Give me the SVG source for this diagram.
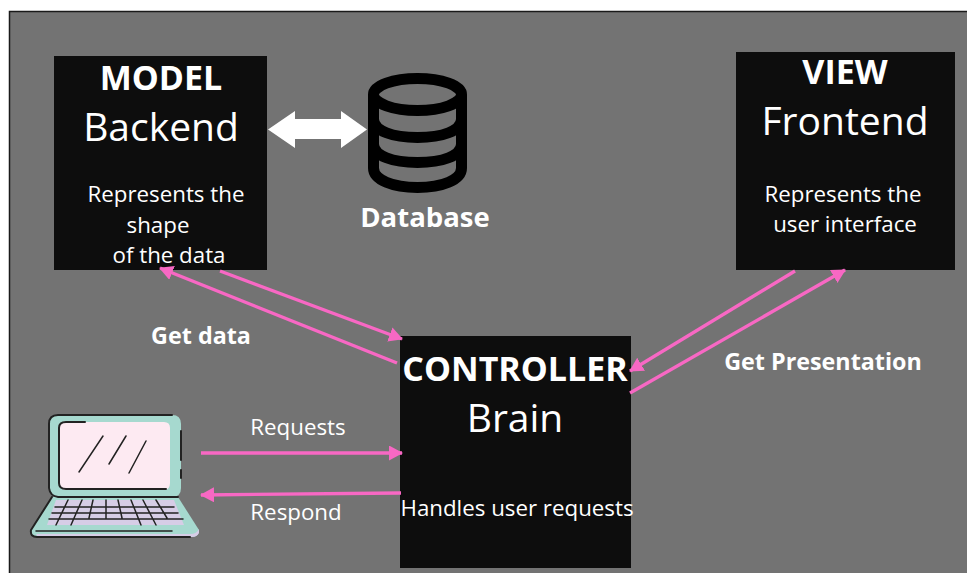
<svg xmlns="http://www.w3.org/2000/svg" width="967" height="573" viewBox="0 0 967 573">
<defs>
<marker id="ah" markerUnits="userSpaceOnUse" markerWidth="16" markerHeight="16" refX="13" refY="7.500" orient="auto"><path d="M0 0L14 7.500L0 15Z" fill="#f868c4"/></marker>
</defs>
<style>
text{font-family:"Open Sans","Noto Sans",sans-serif;fill:#fff;text-anchor:middle}
.box{fill:#0d0d0d}
.t{font-size:34px;font-weight:700}
.s{font-size:39px}
.d{font-size:22.300px}
.b{font-size:23.300px;font-weight:700}
.l{fill:none;stroke:#f868c4;stroke-width:3.300}
.k{fill:none;stroke:#222;stroke-linecap:round}
</style>
<rect width="967" height="573" fill="#fff"/>
<rect x="9.500" y="11.500" width="960" height="565" fill="#737373" stroke="#1a1a1a" stroke-width="1.500"/>
<g id="model">
<rect class="box" x="54" y="56" width="213" height="214"/>
<text class="t" x="161" y="90">MODEL</text>
<text class="s" x="161" y="141">Backend</text>
<text class="d" x="166" y="202">Represents the</text>
<text class="d" x="158" y="233">shape</text>
<text class="d" x="169" y="263">of the data</text>
</g>
<g id="view">
<rect class="box" x="736" y="52" width="219" height="218"/>
<text class="t" x="845" y="84">VIEW</text>
<text class="s" x="845" y="135">Frontend</text>
<text class="d" x="843" y="202">Represents the</text>
<text class="d" x="845" y="232">user interface</text>
</g>
<g id="controller">
<rect class="box" x="400" y="336" width="231" height="232"/>
<text class="t" x="515" y="381">CONTROLLER</text>
<text class="s" x="515" y="432">Brain</text>
<text class="d" x="517" y="516">Handles user requests</text>
</g>
<g id="database">
<g fill="none" stroke="#000" stroke-width="11">
<ellipse cx="417.500" cy="94.500" rx="44" ry="16"/>
<path d="M373.500 94.500V168C373.500 180 393 187.500 417.500 187.500S461.500 180 461.500 168V94.500"/>
<path d="M373.500 119C373.500 131 393 137.500 417.500 137.500S461.500 131 461.500 119"/>
<path d="M373.500 144C373.500 156 393 162.500 417.500 162.500S461.500 156 461.500 144"/>
</g>
<text class="b" x="425" y="227" style="font-size:27.500px">Database</text>
</g>
<g id="laptop">
<path d="M58 415H172Q181 415 181 424V488Q181 497 172 497H58Q49 497 49 488V424Q49 415 58 415Z" fill="#a6d9cf"/>
<path d="M65 422H164Q170 422 170 428V483Q170 490 164 490H66Q59 490 59 483V428Q59 422 65 422Z" fill="#fdeaf2"/>
<path d="M52 497H178L199 530Q199 537 192 537H37Q30 537 31 530Z" fill="#a6d9cf"/>
<path d="M56 500H174L184 525H47Z" fill="#d6cde6"/>
<path d="M36 534H190Q197 534 199 529V533Q197 537 192 537H38Z" fill="#d6cde6"/>
<path class="k" stroke-width="1.500" d="M36 531H172M55 507H174M52 513H178M49 519H183M68 500L56 525M82 500L71 525M93 500L89 518M106 500V518M118 500L122 518M131 500L141 525M143 500L156 525M156 500L167 518"/>
<path class="k" stroke-width="2" d="M58 415H172M181 431V460M181 470V478M49 488V424Q49 415 58 415M49 488Q50 496 58 497H178M52 497L31 530Q30 537 37 537H190M85 422H66Q59 422 59 428V483Q59 489 66 489H166"/>
<path class="k" stroke-width="1.500" d="M103 436L79 472M126 436L109 464M146 441L129 473"/>
</g>
<g id="connectors">
<line class="l" x1="397" y1="363" x2="160" y2="268" marker-end="url(#ah)"/>
<line class="l" x1="220" y1="271" x2="402" y2="339" marker-end="url(#ah)"/>
<line class="l" x1="795" y1="271" x2="630" y2="371" marker-end="url(#ah)"/>
<line class="l" x1="630" y1="393" x2="845" y2="270" marker-end="url(#ah)"/>
<line class="l" x1="201" y1="453" x2="402" y2="453" marker-end="url(#ah)"/>
<line class="l" x1="401" y1="493" x2="201" y2="495" marker-end="url(#ah)"/>
<path d="M268 129.500L295 111V119H341V111L367 129.500L341 148V139H295V148Z" fill="#fff"/>
</g>
<text class="b" x="201" y="344">Get data</text>
<text class="b" x="823" y="370">Get Presentation</text>
<text class="d" x="298" y="435">Requests</text>
<text class="d" x="296" y="520">Respond</text>
</svg>
